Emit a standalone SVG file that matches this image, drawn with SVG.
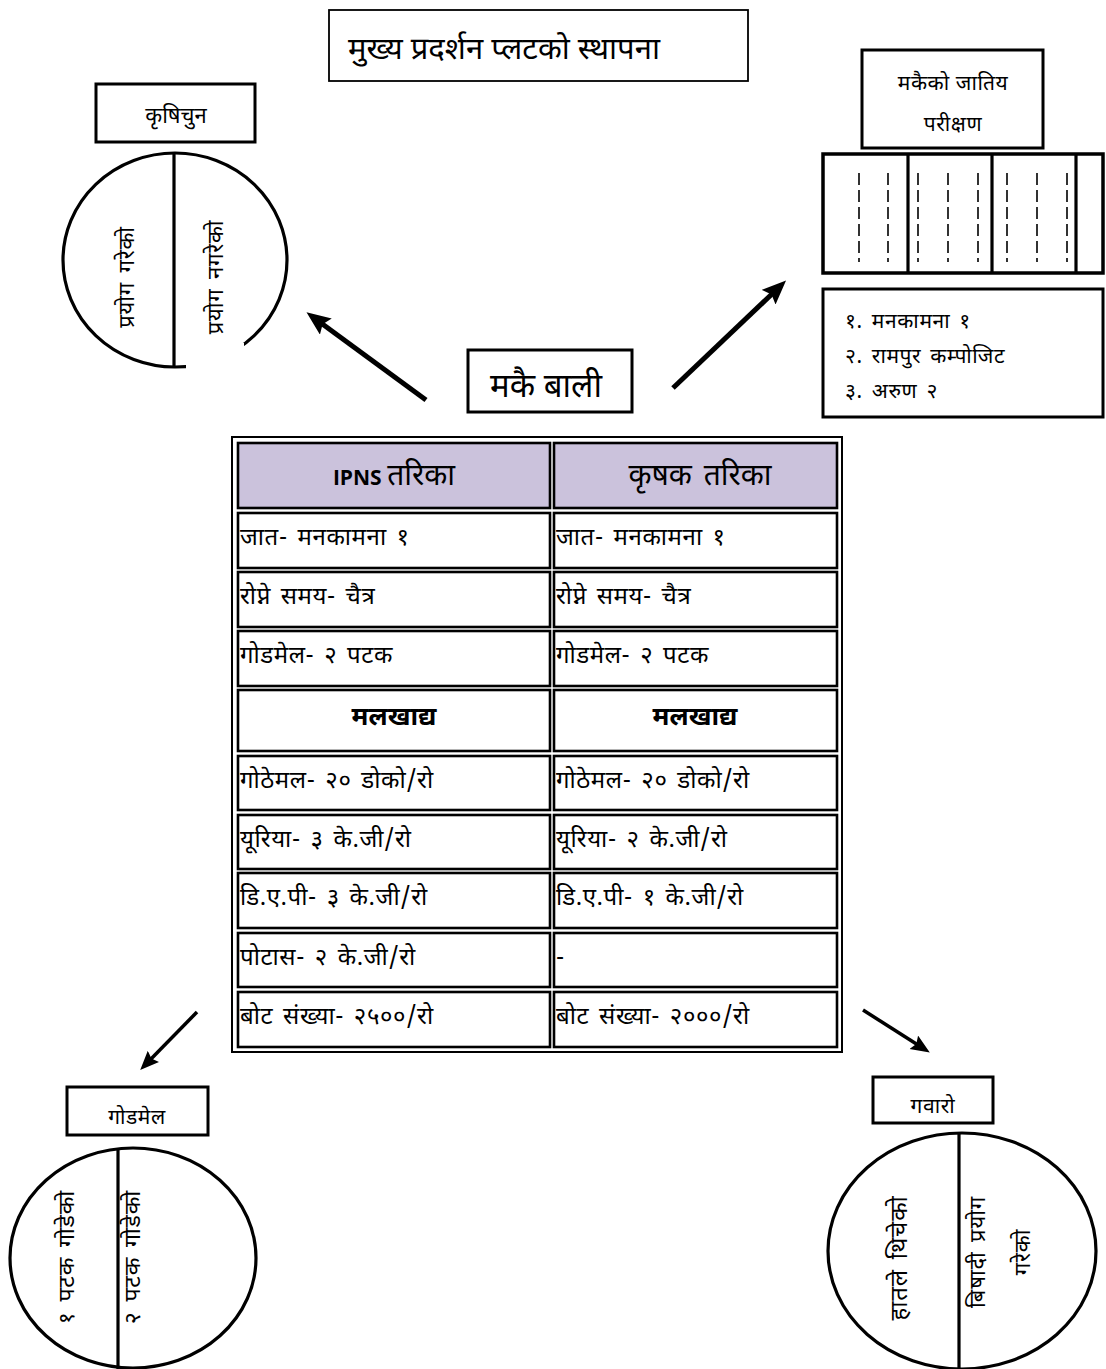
<svg xmlns="http://www.w3.org/2000/svg" width="1106" height="1369" viewBox="0 0 1106 1369">
<style>
text{font-family:"Noto Sans Devanagari","Noto Sans","Lohit Devanagari","FreeSans",sans-serif;fill:#000}
.box{fill:#fff;stroke:#000;stroke-width:3}
.thin{fill:#fff;stroke:#000;stroke-width:1.8}
.circ{fill:#fff;stroke:#000;stroke-width:3.2}
.div{stroke:#000;stroke-width:3.2}
.dash{stroke:#000;stroke-width:1.6;stroke-dasharray:12 5}
.cell{fill:#fff;stroke:#000;stroke-width:2.6}
.hcell{fill:#cbc2dc;stroke:#000;stroke-width:2.6}
.t{font-size:24px;letter-spacing:0.6px;word-spacing:3px}
.c{text-anchor:middle}
.lbl{font-size:21px;letter-spacing:0.6px}
.rot{font-size:22px;letter-spacing:0.8px;word-spacing:3px}
.arr{stroke:#000;fill:none}
</style>
<defs>
<marker id="ahB" markerUnits="userSpaceOnUse" markerWidth="26" markerHeight="22" refX="6" refY="10" orient="auto">
<path d="M0,0 L24,10 L0,20 L4,10 z" fill="#000"/>
</marker>
<marker id="ahS" markerUnits="userSpaceOnUse" markerWidth="20" markerHeight="18" refX="5" refY="8" orient="auto">
<path d="M0,0 L19,8 L0,16 L3,8 z" fill="#000"/>
</marker>
</defs>

<g id="title">
<rect x="329" y="10" width="419" height="71" class="thin"/>
<text x="348" y="59" style="font-size:31px">मुख्य प्रदर्शन प्लटको स्थापना</text>
</g>

<g id="makai-bali">
<rect x="468" y="350" width="164" height="62" class="box"/>
<text x="546" y="397" class="c" style="font-size:33px">मकै बाली</text>
</g>

<g id="krishichun">
<rect x="96" y="84" width="159" height="58" class="box"/>
<text x="176" y="123" class="c" style="font-size:22px">कृषिचुन</text>
<ellipse cx="175" cy="260" rx="112" ry="107" class="circ"/>
<line x1="174" y1="153" x2="174" y2="367" class="div"/>
<rect x="186" y="343" width="58" height="28" fill="#fff"/>
<text transform="translate(134,277) rotate(-90)" class="c rot">प्रयोग गरेको</text>
<text transform="translate(223,277) rotate(-90)" class="c rot">प्रयोग नगरेको</text>
</g>

<g id="jatiya-parikshan">
<rect x="862" y="50" width="181" height="98" class="box"/>
<text x="953" y="90" class="c lbl">मकैको जातिय</text>
<text x="953" y="131" class="c lbl">परीक्षण</text>
</g>

<g id="plot">
<rect x="823" y="154" width="280" height="119" fill="#fff" stroke="#000" stroke-width="3.5"/>
<line x1="908" y1="154" x2="908" y2="273" class="div"/>
<line x1="992" y1="154" x2="992" y2="273" class="div"/>
<line x1="1076" y1="154" x2="1076" y2="273" class="div"/>
<line x1="859" y1="173" x2="859" y2="262" class="dash"/>
<line x1="888" y1="173" x2="888" y2="262" class="dash"/>
<line x1="918" y1="173" x2="918" y2="262" class="dash"/>
<line x1="948" y1="173" x2="948" y2="262" class="dash"/>
<line x1="978" y1="173" x2="978" y2="262" class="dash"/>
<line x1="1007" y1="173" x2="1007" y2="262" class="dash"/>
<line x1="1037" y1="173" x2="1037" y2="262" class="dash"/>
<line x1="1067" y1="173" x2="1067" y2="262" class="dash"/>
</g>

<g id="varieties">
<rect x="823" y="289" width="280" height="128" class="box"/>
<text x="845" y="328" class="lbl" style="word-spacing:3px">१. मनकामना १</text>
<text x="845" y="363" class="lbl" style="word-spacing:3px">२. रामपुर कम्पोजिट</text>
<text x="845" y="398" class="lbl" style="word-spacing:3px">३. अरुण २</text>
</g>

<g id="table">
<rect x="232" y="437" width="610" height="615" fill="#fff" stroke="#000" stroke-width="2"/>
<rect x="238" y="443" width="312" height="65" class="hcell"/>
<rect x="554" y="443" width="283" height="65" class="hcell"/>
<text x="394" y="485" class="c" style="font-size:30px"><tspan style="font-family:'Open Sans','Liberation Sans',sans-serif;font-weight:bold;font-size:21px">IPNS </tspan>तरिका</text>
<text x="700" y="485" class="c" style="font-size:30px;word-spacing:4px">कृषक तरिका</text>

<rect x="238" y="513" width="312" height="55" class="cell"/>
<rect x="554" y="513" width="283" height="55" class="cell"/>
<text x="240" y="545" class="t">जात- मनकामना १</text>
<text x="556" y="545" class="t">जात- मनकामना १</text>

<rect x="238" y="572" width="312" height="55" class="cell"/>
<rect x="554" y="572" width="283" height="55" class="cell"/>
<text x="240" y="604" class="t">रोप्ने समय- चैत्र</text>
<text x="556" y="604" class="t">रोप्ने समय- चैत्र</text>

<rect x="238" y="631" width="312" height="55" class="cell"/>
<rect x="554" y="631" width="283" height="55" class="cell"/>
<text x="240" y="663" class="t">गोडमेल- २ पटक</text>
<text x="556" y="663" class="t">गोडमेल- २ पटक</text>

<rect x="238" y="690" width="312" height="61" class="cell"/>
<rect x="554" y="690" width="283" height="61" class="cell"/>
<text x="394" y="725" class="c" style="font-size:26px;font-weight:bold">मलखाद्य</text>
<text x="695" y="725" class="c" style="font-size:26px;font-weight:bold">मलखाद्य</text>

<rect x="238" y="756" width="312" height="54" class="cell"/>
<rect x="554" y="756" width="283" height="54" class="cell"/>
<text x="240" y="788" class="t">गोठेमल- २० डोको/रो</text>
<text x="556" y="788" class="t">गोठेमल- २० डोको/रो</text>

<rect x="238" y="815" width="312" height="54" class="cell"/>
<rect x="554" y="815" width="283" height="54" class="cell"/>
<text x="240" y="847" class="t">यूरिया- ३ के.जी/रो</text>
<text x="556" y="847" class="t">यूरिया- २ के.जी/रो</text>

<rect x="238" y="873" width="312" height="55" class="cell"/>
<rect x="554" y="873" width="283" height="55" class="cell"/>
<text x="240" y="905" class="t">डि.ए.पी- ३ के.जी/रो</text>
<text x="556" y="905" class="t">डि.ए.पी- १ के.जी/रो</text>

<rect x="238" y="933" width="312" height="54" class="cell"/>
<rect x="554" y="933" width="283" height="54" class="cell"/>
<text x="240" y="965" class="t">पोटास- २ के.जी/रो</text>
<text x="556" y="965" class="t">-</text>

<rect x="238" y="992" width="312" height="55" class="cell"/>
<rect x="554" y="992" width="283" height="55" class="cell"/>
<text x="240" y="1024" class="t">बोट संख्या- २५००/रो</text>
<text x="556" y="1024" class="t">बोट संख्या- २०००/रो</text>
</g>

<g id="godmel">
<rect x="67" y="1087" width="141" height="48" class="box"/>
<text x="137" y="1124" class="c lbl">गोडमेल</text>
<ellipse cx="133" cy="1258" rx="123" ry="110" class="circ"/>
<line x1="118" y1="1148" x2="118" y2="1369" class="div"/>
<text transform="translate(74,1257) rotate(-90)" class="c rot" style="font-size:23px">१ पटक गोडेको</text>
<text transform="translate(140,1257) rotate(-90)" class="c rot" style="font-size:23px">२ पटक गोडेको</text>
</g>

<g id="gavaro">
<rect x="873" y="1077" width="120" height="46" class="box"/>
<text x="933" y="1113" class="c lbl">गवारो</text>
<ellipse cx="962" cy="1251" rx="134" ry="118" class="circ"/>
<line x1="959" y1="1133" x2="959" y2="1369" class="div"/>
<text transform="translate(907,1258) rotate(-90)" class="c rot" style="font-size:24px">हातले थिचेको</text>
<text transform="translate(985,1252) rotate(-90)" class="c rot">बिषादी प्रयोग</text>
<text transform="translate(1030,1252) rotate(-90)" class="c rot">गरेको</text>
</g>

<g id="connectors">
<line x1="426" y1="400" x2="321" y2="323" class="arr" stroke-width="5" marker-end="url(#ahB)"/>
<line x1="673" y1="388" x2="773" y2="293" class="arr" stroke-width="5" marker-end="url(#ahB)"/>
<line x1="197" y1="1012" x2="150" y2="1060" class="arr" stroke-width="3.5" marker-end="url(#ahS)"/>
<line x1="863" y1="1010" x2="918" y2="1045" class="arr" stroke-width="3.5" marker-end="url(#ahS)"/>
</g>
</svg>
